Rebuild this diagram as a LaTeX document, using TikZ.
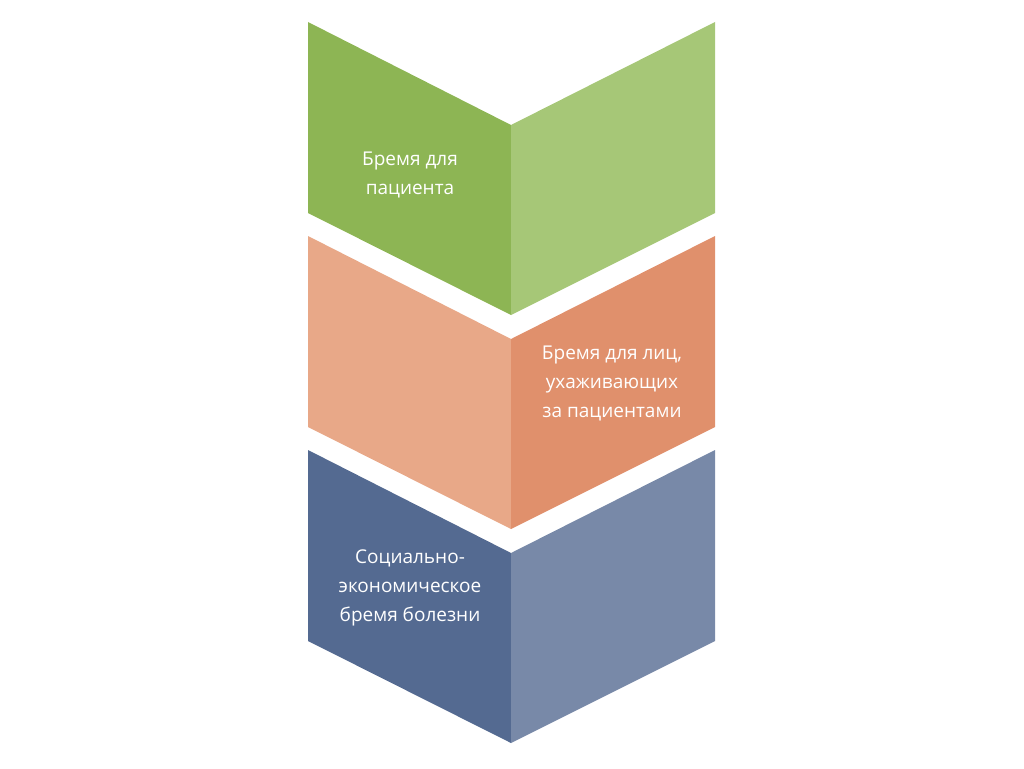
\documentclass[tikz,border=0pt]{standalone}
\usepackage{fontspec}
\setmainfont{Open Sans}
\definecolor{gL}{HTML}{8DB554}\definecolor{gR}{HTML}{A6C777}
\definecolor{oL}{HTML}{E8A888}\definecolor{oR}{HTML}{E0906C}
\definecolor{bL}{HTML}{546A91}\definecolor{bR}{HTML}{7889A8}
\begin{document}
\begin{tikzpicture}[x=1pt,y=-1pt,
  lbl/.style={text=white,align=center,font=\fontsize{19}{29}\selectfont}]
\useasboundingbox (0,0) rectangle (1024,768);
\newcommand\chev[3]{%
  \fill[#2] (308,#1) -- (511,#1+103) -- (511,#1+293) -- (308,#1+191) -- cycle;
  \fill[#3] (511,#1+103) -- (715,#1) -- (715,#1+191) -- (511,#1+293) -- cycle;}
\chev{22}{gL}{gR}
\chev{236}{oL}{oR}
\chev{450}{bL}{bR}
\node[lbl] (t1) at (410,175) {Бремя для\\пациента};
\node[lbl] (t2) at (612,383) {Бремя для лиц,\\ухаживающих\\за пациентами};
\node[lbl] (t3) at (410,588) {Социально-\\экономическое\\бремя болезни};
\end{tikzpicture}
\end{document}
